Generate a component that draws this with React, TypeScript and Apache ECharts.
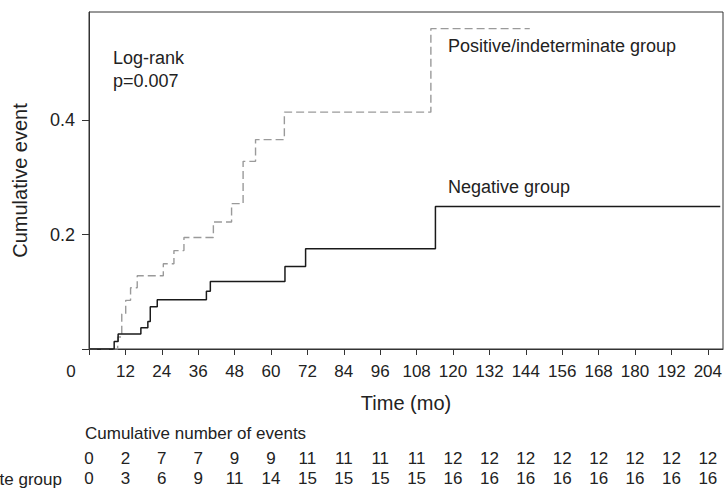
import React, { useEffect, useRef } from "react";
import * as echarts from "echarts";

// Time points (months) and cumulative event proportions
const negTimes = [0, 8.3, 9.6, 17.1, 19.4, 20.2, 22.5, 38.7, 40.0, 64.6, 71.4, 114.2, 208.1];
const negValues = [0, 0.013, 0.026, 0.037, 0.048, 0.074, 0.086, 0.101, 0.118, 0.144, 0.175, 0.249, 0.249];

const posTimes = [0, 9.45, 10.8, 12.1, 13.7, 15.9, 24.5, 28.0, 31.3, 41.0, 47.0, 50.8, 54.9, 64.4, 112.7, 145.3];
const posValues = [0, 0.021, 0.061, 0.085, 0.107, 0.128, 0.149, 0.172, 0.195, 0.222, 0.254, 0.328, 0.366, 0.414, 0.56, 0.56];

// Axis ticks
const xTicks = [0, 12, 24, 36, 48, 60, 72, 84, 96, 108, 120, 132, 144, 156, 168, 180, 192, 204];
const yTicks = [0, 0.2, 0.4];
const yLabels = [0.2, 0.4];

// Cumulative number of events table, one value per x tick
const negEvents = [0, 2, 7, 7, 9, 9, 11, 11, 11, 11, 12, 12, 12, 12, 12, 12, 12, 12];
const posEvents = [0, 3, 6, 9, 11, 14, 15, 15, 15, 15, 16, 16, 16, 16, 16, 16, 16, 16];

const FONT = "'Liberation Sans', Arial, Helvetica, sans-serif";
const TEXT = "#222";

export default function App() {
  const ref = useRef<HTMLDivElement>(null);

  useEffect(() => {
    if (!ref.current) return;
    const chart = echarts.init(ref.current, undefined, { renderer: "svg" });
    const X_MAX = 209;

    const rowAxis = (events: number[], offset: number) => ({
      type: "value",
      gridIndex: 0,
      position: "bottom",
      offset,
      min: 0,
      max: X_MAX,
      axisLine: { show: false },
      axisTick: { show: false },
      splitLine: { show: false },
      axisLabel: {
        customValues: xTicks,
        margin: 14,
        fontSize: 17,
        fontFamily: FONT,
        color: TEXT,
        formatter: (v: number) => {
          const i = xTicks.indexOf(Math.round(v));
          return i >= 0 ? String(events[i]) : "";
        },
      },
    });

    chart.setOption({
      animation: false,
      backgroundColor: "#fff",
      grid: {
        left: 89,
        right: 3,
        top: 12,
        bottom: 140,
        show: true,
        borderColor: "#333",
        borderWidth: 1,
        backgroundColor: "transparent",
      },
      xAxis: [
        {
          type: "value",
          min: 0,
          max: X_MAX,
          name: "Time (mo)",
          nameLocation: "middle",
          nameGap: 44,
          nameTextStyle: { fontSize: 20, fontFamily: FONT, color: TEXT },
          axisLine: { show: true, onZero: false, lineStyle: { color: "#333", width: 1 } },
          axisTick: { show: true, inside: false, length: 6, customValues: xTicks, lineStyle: { color: "#333" } },
          splitLine: { show: false },
          axisLabel: {
            customValues: xTicks,
            margin: 14,
            fontSize: 17,
            fontFamily: FONT,
            color: TEXT,
            formatter: (v: number) => (v === 0 ? "{z|0}" : String(v)),
            rich: {
              z: { padding: [0, 36, 0, 0], fontSize: 17, fontFamily: FONT, color: TEXT },
            },
          },
        },
        rowAxis(negEvents, 87),
        rowAxis(posEvents, 107),
      ],
      yAxis: {
        type: "value",
        min: 0,
        max: 0.589,
        name: "Cumulative event",
        nameLocation: "middle",
        nameGap: 59,
        nameTextStyle: { fontSize: 20, fontFamily: FONT, color: TEXT },
        axisLine: { show: true, onZero: false, lineStyle: { color: "#333", width: 1 } },
        axisTick: { show: true, inside: false, length: 7, customValues: yTicks, lineStyle: { color: "#333" } },
        splitLine: { show: false },
        axisLabel: {
          customValues: yLabels,
          margin: 14,
          fontSize: 18,
          fontFamily: FONT,
          color: TEXT,
          formatter: (v: number) => v.toFixed(1),
        },
      },
      series: [
        {
          name: "Positive/indeterminate group",
          type: "line",
          step: "end",
          symbol: "none",
          xAxisIndex: 0,
          yAxisIndex: 0,
          data: posTimes.map((t, i) => [t, posValues[i]]),
          lineStyle: { color: "#9a9a9a", width: 1.4, type: [8, 4] },
          z: 3,
        },
        {
          name: "Negative group",
          type: "line",
          step: "end",
          symbol: "none",
          xAxisIndex: 0,
          yAxisIndex: 0,
          data: negTimes.map((t, i) => [t, negValues[i]]),
          lineStyle: { color: "#1a1a1a", width: 1.5 },
          z: 4,
        },
      ],
      graphic: [
        { type: "text", x: 113, y: 58, style: { text: "Log-rank", font: `18px ${FONT}`, fill: TEXT, verticalAlign: "middle" } },
        { type: "text", x: 113, y: 81, style: { text: "p=0.007", font: `18px ${FONT}`, fill: TEXT, verticalAlign: "middle" } },
        { type: "text", x: 448, y: 46, style: { text: "Positive/indeterminate group", font: `18px ${FONT}`, fill: TEXT, verticalAlign: "middle" } },
        { type: "text", x: 448, y: 187, style: { text: "Negative group", font: `18px ${FONT}`, fill: TEXT, verticalAlign: "middle" } },
        { type: "text", x: 85, y: 433, style: { text: "Cumulative number of events", font: `17px ${FONT}`, fill: TEXT, verticalAlign: "middle" } },
        { type: "text", x: 62, y: 479, style: { text: "Positive/indeterminate group", font: `17px ${FONT}`, fill: TEXT, align: "right", verticalAlign: "middle" } },
      ],
    });

    return () => chart.dispose();
  }, []);

  return (
    <div
      ref={ref}
      style={{ position: "fixed", left: 0, top: 0, width: 726, height: 489, background: "#fff" }}
    />
  );
}
